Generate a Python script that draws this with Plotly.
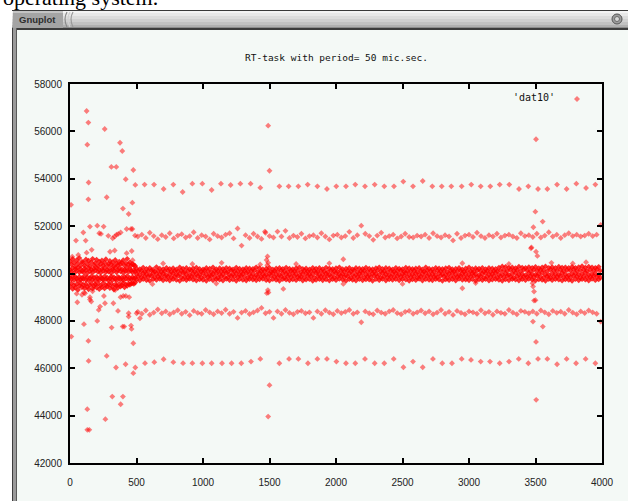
import plotly.graph_objects as go

# ---------------------------------------------------------------- data
# sample index vs. measured latency-period value (dat10)

# dense core band, samples 500..3975 (every 25th sample)
band_x = list(range(500, 4000, 25))
band_top = [
    50210, 50180, 50250, 50190, 50230, 50160, 50270, 50200, 50180, 50240,
    50190, 50220, 50170, 50260, 50200, 50230, 50180, 50210, 50250, 50190,
    50170, 50230, 50200, 50260, 50180, 50220, 50190, 50240, 50210, 50170,
    50250, 50200, 50180, 50230, 50210, 50190, 50260, 50220, 50180, 50200,
    50240, 50170, 50210, 50230, 50190, 50250, 50200, 50180, 50220, 50260,
    50190, 50210, 50170, 50240, 50200, 50230, 50180, 50250, 50210, 50190,
    50220, 50260, 50180, 50200, 50240, 50170, 50230, 50210, 50190, 50250,
    50200, 50180, 50220, 50260, 50190, 50230, 50210, 50170, 50240, 50200,
    50180, 50250, 50220, 50190, 50210, 50230, 50170, 50260, 50200, 50180,
    50240, 50210, 50190, 50220, 50250, 50180, 50200, 50230, 50170, 50210,
    50260, 50190, 50220, 50200, 50240, 50180, 50230, 50210, 50190, 50250,
    50300, 50280, 50240, 50260, 50220, 50290, 50250, 50230, 50270, 50240,
    50280, 50220, 50260, 50300, 50240, 50270, 50230, 50290, 50250, 50260,
    50230, 50280, 50240, 50270, 50310, 50250, 50290, 50260, 50240, 50280,
]
band_mid = [
    49980, 49950, 50010, 49970, 49940, 50020, 49990, 49960, 50000, 49930,
    49970, 50010, 49950, 49990, 50030, 49960, 49940, 50000, 49980, 49950,
    50020, 49970, 49930, 49990, 50010, 49960, 49980, 50030, 49950, 49970,
    50000, 49940, 49990, 50020, 49960, 49980, 49930, 50010, 49970, 49950,
    49990, 50030, 49960, 49940, 50000, 49980, 49950, 50020, 49970, 49930,
    49990, 50010, 49960, 49980, 50030, 49950, 49970, 50000, 49940, 49990,
    50020, 49960, 49980, 49930, 50010, 49970, 49950, 49990, 50030, 49960,
    49940, 50000, 49980, 49950, 50020, 49970, 49930, 49990, 50010, 49960,
    49980, 50030, 49950, 49970, 50000, 49940, 49990, 50020, 49960, 49980,
    49930, 50010, 49970, 49950, 49990, 50030, 49960, 49940, 50000, 49980,
    49950, 50020, 49970, 49930, 49990, 50010, 49960, 49980, 50030, 49950,
    49970, 50000, 49940, 49990, 50020, 49960, 49980, 49930, 50010, 49970,
    49950, 49990, 50030, 49960, 49940, 50000, 49980, 49950, 50020, 49970,
    49930, 49990, 50010, 49960, 49980, 50030, 49950, 49970, 50000, 49940,
]
band_bot = [
    49740, 49700, 49770, 49720, 49690, 49760, 49730, 49780, 49710, 49750,
    49700, 49770, 49730, 49690, 49760, 49720, 49780, 49740, 49700, 49750,
    49730, 49690, 49770, 49710, 49760, 49740, 49700, 49780, 49720, 49750,
    49690, 49760, 49730, 49700, 49770, 49740, 49710, 49750, 49780, 49720,
    49700, 49760, 49730, 49690, 49770, 49740, 49710, 49750, 49720, 49780,
    49700, 49740, 49760, 49690, 49730, 49770, 49710, 49750, 49700, 49760,
    49720, 49780, 49740, 49690, 49760, 49730, 49700, 49770, 49710, 49750,
    49740, 49690, 49760, 49720, 49780, 49700, 49750, 49730, 49770, 49710,
    49760, 49740, 49690, 49750, 49720, 49780, 49700, 49760, 49730, 49710,
    49770, 49740, 49690, 49750, 49720, 49760, 49700, 49780, 49730, 49740,
    49710, 49760, 49690, 49750, 49720, 49770, 49700, 49740, 49760, 49730,
    49690, 49750, 49710, 49770, 49740, 49700, 49760, 49720, 49780, 49740,
    49700, 49750, 49730, 49690, 49770, 49720, 49760, 49740, 49700, 49750,
    49730, 49690, 49770, 49710, 49760, 49740, 49700, 49780, 49720, 49750,
]
# in-between samples of the core band (offset by half a step)
band_x2 = list(range(512, 4000, 25))
band_q1 = [
    50090, 50120, 50070, 50100, 50130, 50080, 50110, 50060, 50100, 50120,
    50070, 50110, 50090, 50130, 50060, 50100, 50120, 50080, 50110, 50070,
    50130, 50090, 50060, 50120, 50100, 50080, 50110, 50070, 50130, 50090,
    50100, 50060, 50120, 50080, 50110, 50130, 50070, 50100, 50090, 50120,
    50060, 50110, 50080, 50130, 50100, 50070, 50120, 50090, 50110, 50060,
    50130, 50080, 50100, 50120, 50070, 50110, 50090, 50060, 50130, 50100,
    50080, 50120, 50070, 50110, 50090, 50130, 50060, 50100, 50120, 50080,
    50110, 50070, 50130, 50090, 50100, 50060, 50120, 50080, 50110, 50130,
    50070, 50100, 50090, 50120, 50060, 50110, 50080, 50130, 50100, 50070,
    50120, 50090, 50110, 50060, 50130, 50080, 50100, 50120, 50070, 50110,
    50090, 50060, 50130, 50100, 50080, 50120, 50070, 50110, 50090, 50130,
    50140, 50110, 50160, 50120, 50150, 50100, 50170, 50130, 50110, 50160,
    50120, 50150, 50140, 50100, 50170, 50130, 50120, 50160, 50110, 50150,
    50130, 50170, 50120, 50140, 50160, 50110, 50150, 50130, 50170, 50120,
]
band_q3 = [
    49860, 49830, 49880, 49850, 49900, 49840, 49870, 49820, 49890, 49850,
    49830, 49870, 49900, 49840, 49860, 49820, 49880, 49850, 49890, 49830,
    49870, 49840, 49900, 49860, 49820, 49880, 49850, 49830, 49890, 49870,
    49840, 49900, 49860, 49820, 49880, 49830, 49870, 49850, 49890, 49840,
    49900, 49860, 49830, 49880, 49820, 49870, 49850, 49890, 49840, 49860,
    49830, 49900, 49870, 49820, 49880, 49850, 49840, 49890, 49860, 49830,
    49870, 49900, 49840, 49880, 49820, 49860, 49850, 49890, 49830, 49870,
    49840, 49900, 49860, 49820, 49880, 49830, 49870, 49850, 49890, 49840,
    49900, 49860, 49830, 49880, 49820, 49870, 49850, 49890, 49840, 49860,
    49830, 49900, 49870, 49820, 49880, 49850, 49840, 49890, 49860, 49830,
    49870, 49900, 49840, 49880, 49820, 49860, 49850, 49890, 49830, 49870,
    49840, 49900, 49860, 49820, 49880, 49830, 49870, 49850, 49890, 49840,
    49900, 49860, 49830, 49880, 49820, 49870, 49850, 49890, 49840, 49860,
    49830, 49900, 49870, 49820, 49880, 49850, 49840, 49890, 49860, 49830,
]

# start-up phase, samples 0..490 (every 10th sample), wider scatter
early_x = list(range(0, 500, 10))
early_a = [
    50520, 50380, 50610, 50450, 50300, 50560, 50420, 50650, 50340, 50500,
    50470, 50330, 50590, 50400, 50540, 50310, 50480, 50620, 50360, 50440,
    50580, 50320, 50500, 50390, 50550, 50350, 50460, 50600, 50330, 50410,
    50530, 50370, 50480, 50310, 50570, 50420, 50350, 50500, 50390, 50460,
    50560, 50340, 50430, 50620, 50380, 50470, 50330, 50400, 50360, 50320,
]
early_b = [
    50150, 50080, 50220, 50010, 50180, 50120, 50250, 50050, 50190, 50100,
    50060, 50210, 50140, 50020, 50230, 50090, 50170, 50040, 50200, 50130,
    50240, 50070, 50160, 50030, 50190, 50110, 50220, 50060, 50150, 50080,
    50200, 50020, 50170, 50120, 50250, 50050, 50140, 50210, 50090, 50180,
    50030, 50160, 50100, 50230, 50070, 50190, 50120, 50040, 50150, 50090,
]
early_c = [
    49820, 49760, 49880, 49720, 49850, 49790, 49700, 49860, 49740, 49810,
    49770, 49890, 49730, 49840, 49710, 49800, 49870, 49750, 49830, 49690,
    49860, 49780, 49720, 49850, 49800, 49740, 49880, 49760, 49820, 49710,
    49790, 49870, 49730, 49840, 49770, 49700, 49860, 49810, 49750, 49830,
    49720, 49850, 49780, 49890, 49740, 49810, 49760, 49840, 49790, 49820,
]
early_d = [
    49450, 49580, 49350, 49500, 49400, 49550, 49310, 49480, 49600, 49420,
    49520, 49380, 49560, 49440, 49330, 49500, 49590, 49360, 49470, 49540,
    49410, 49570, 49340, 49490, 49430, 49600, 49370, 49510, 49460, 49550,
    49390, 49580, 49440, 49320, 49530, 49480, 49400, 49560, 49450, 49500,
    49600, 49420, 49540, 49480, 49560, 49520, 49580, 49600, 49560, 49620,
]

# secondary levels, every 30th sample from 510
level_x = list(range(510, 4000, 30))
level_hi = [
    51560, 51640, 51500, 51720, 51580, 51450, 51620, 51540, 51700, 51480,
    51600, 51660, 51520, 51580, 51740, 51500, 51620, 51560, 51440, 51680,
    51580, 51520, 51640, 51700, 51480, 51900, 51177, 51620, 51500, 51680,
    51560, 51460, 51720, 51580, 51520, 51770, 51560, 51800, 51500, 51600,
    51540, 51680, 51480, 51580, 51620, 51520, 51700, 51560, 51440, 51600,
    51640, 51520, 51580, 51760, 51500, 51620, 52020, 51680, 51580, 51420,
    51600, 51720, 51520, 51580, 51640, 51480, 51560, 51680, 51540, 51520,
    51600, 51560, 51640, 51500, 51700, 51580, 51520, 51620, 51560, 51396,
    51680, 51500, 51600, 51640, 51540, 51720, 51580, 51500, 51620, 51560,
    51680, 51520, 51600, 51640, 51560, 51500, 51700, 51580, 51620, 51540,
    51680, 51520, 51600, 51740, 51560, 51640, 51500, 51620, 51700, 51580,
    51640, 51560, 51600, 51680, 51580, 51640, 52050,
]
level_lo = [
    48380, 48300, 48440, 48260, 48350, 48480, 48320, 48400, 48280, 48360,
    48450, 48300, 48380, 48240, 48420, 48340, 48300, 48460, 48360, 48280,
    48400, 48330, 48470, 48300, 48380, 48125, 48350, 48420, 48290, 48360,
    48440, 48547, 48320, 48380, 48125, 48400, 48300, 48460, 48340, 48280,
    48380, 48420, 48320, 48360, 48125, 48400, 48300, 48450, 48350, 48280,
    48420, 48330, 48380, 48460, 48300, 48360, 47944, 48400, 48320, 48280,
    48440, 48350, 48300, 48400, 48460, 48330, 48280, 48380, 48420, 48300,
    48360, 48440, 48320, 48400, 48280, 48350, 48460, 48300, 48380, 48252,
    48420, 48340, 48280, 48400, 48360, 48300, 48450, 48320, 48380, 48260,
    48400, 48340, 48300, 48460, 48350, 48280, 48420, 48380, 48320, 48400,
    48300, 48440, 48360, 48280, 48420, 48340, 48390, 48300, 48460, 48350,
    48280, 48400, 48330, 48440, 48360, 48300, 47970,
]

# periodic far levels (~53700 and ~46200)
far_hi_x = [561, 632, 704, 777, 847, 920, 995, 1065, 1135, 1208, 1281, 1358,
            1431, 1574, 1644, 1717, 1787, 1860, 1932, 2002, 2075, 2145, 2218,
            2291, 2363, 2436, 2506, 2579, 2652, 2724, 2795, 2867, 2945, 3017,
            3088, 3160, 3231, 3303, 3376, 3446, 3519, 3589, 3662, 3734, 3807,
            3880, 3950]
far_hi_y = [53752, 53752, 53569, 53752, 53442, 53794, 53794, 53527, 53794,
            53738, 53794, 53794, 53625, 53681, 53681, 53681, 53752, 53681,
            53569, 53681, 53681, 53752, 53681, 53752, 53681, 53681, 53879,
            53681, 53906, 53681, 53681, 53681, 53681, 53752, 53681, 53681,
            53752, 53752, 53569, 53681, 53569, 53569, 53752, 53569, 53794,
            53611, 53752]
far_lo_x = [564, 634, 704, 777, 850, 920, 995, 1065, 1143, 1215, 1288, 1361,
            1431, 1574, 1647, 1717, 1789, 1860, 1932, 2003, 2075, 2145, 2218,
            2291, 2363, 2434, 2507, 2579, 2652, 2729, 2799, 2872, 2945, 3015,
            3088, 3158, 3231, 3301, 3374, 3446, 3519, 3589, 3662, 3734, 3805,
            3877, 3950]
far_lo_y = [46214, 46256, 46382, 46256, 46214, 46214, 46212, 46212, 46212,
            46212, 46212, 46282, 46395, 46212, 46395, 46395, 46212, 46395,
            46395, 46282, 46212, 46212, 46395, 46212, 46212, 46395, 46043,
            46282, 46043, 46395, 46212, 46212, 46395, 46353, 46282, 46282,
            46212, 46282, 46395, 46212, 46395, 46395, 46170, 46395, 46212,
            46395, 46212]

# isolated samples (start-up transients and the disturbances near 1500 / 3500)
iso_x = [8, 125, 138, 130, 140, 138, 261, 276, 376, 393, 311, 348, 419, 476,
         491, 398, 441, 469, 45, 100, 118, 150, 205, 253, 220, 233, 288, 321,
         363, 381, 426, 459, 469, 489, 336, 350, 163, 125, 301, 336, 426, 464,
         471, 17, 62,
         10, 55, 105, 138, 140, 130, 130, 145, 113, 216, 226, 205, 263, 276,
         266, 313, 326, 361, 346, 318, 381, 398, 396, 408, 418, 441, 441, 463,
         459, 476, 476, 491, 501, 526, 50, 90, 105, 150, 170, 255, 340, 380,
         400, 420, 445, 150, 160,
         1490, 1500, 1500, 1490, 1478, 1485, 1490, 1483, 1480, 1492, 1488,
         1604, 1466,
         3504, 3499, 3554, 3484, 3466, 3470, 3504, 3514, 3489, 3500, 3489,
         3481, 3555, 3504, 3505, 3478, 3482,
         700, 920, 1140, 1430, 1700, 1950, 2950, 2950, 3300, 3620, 3780,
         3880, 2055, 2055, 620, 1100, 2500, 3050]
iso_y = [52900, 56860, 56370, 55440, 53840, 53130, 56100, 53220, 55520, 55170,
         54500, 54500, 53980, 54370, 53740, 52740, 52510, 52990, 51390, 51730,
         51390, 51980, 52020, 51980, 51700, 51670, 51590, 51490, 51670, 51730,
         51880, 51880, 51880, 51600, 51560, 51640, 51000, 50880, 50920, 50970,
         50860, 50950, 50560, 50710, 50780,
         47336, 48787, 47860, 47155, 46311, 44272, 43400, 43400, 49167, 48463,
         48603, 48000, 48745, 46520, 43850, 47717, 48745, 48420, 46030, 44805,
         44481, 44805, 47760, 47760, 46171, 48321, 48180, 47661, 47802, 47057,
         45792, 46030, 48321, 48110, 49150, 49100, 49200, 49000, 49250, 49050,
         49300, 49000, 49050, 49050, 49000, 48900, 48820,
         56240, 54340, 45285, 43960, 50570, 50720, 50450, 50350, 49170, 49200,
         49300, 49350, 51770,
         55666, 52610, 52190, 51953, 51067, 51100, 50923, 50742, 49235, 48870,
         48855, 47970, 47760, 47113, 44665, 49590, 49450,
         50420, 50400, 50450, 50380, 50400, 50430, 50434, 49378, 50400, 50450,
         50420, 50480, 50600, 49560, 49550, 49580, 49560, 49600]

series_name = "'dat10'"
chart_title = "RT-task with period= 50 mic.sec."
x_ticks = [0, 500, 1000, 1500, 2000, 2500, 3000, 3500, 4000]
y_ticks = [42000, 44000, 46000, 48000, 50000, 52000, 54000, 56000, 58000]

# ---------------------------------------------------------------- assemble
# the core band stands for thousands of coinciding samples, so it is drawn
# with a denser fill than the sparse levels
core_x, core_y = [], []
for col in (band_top, band_mid, band_bot):
    core_x += band_x
    core_y += col
for col in (band_q1, band_q3):
    core_x += band_x2
    core_y += col
for col in (early_a, early_b, early_c, early_d):
    core_x += early_x
    core_y += col

sparse_x, sparse_y = [], []
for col in (level_hi, level_lo):
    sparse_x += level_x
    sparse_y += col
sparse_x += far_hi_x + far_lo_x + iso_x
sparse_y += far_hi_y + far_lo_y + iso_y

W, H = 628, 501
L, R, T, B = 70, 602, 84, 463
CANVAS = "#f4f9f6"
POINT = "rgba(255,0,0,0.5)"
CORE = "rgba(255,0,0,0.8)"


def px(x):
    return (x - L) / (R - L)


def py(y):
    return (B - y) / (B - T)


fig = go.Figure()
fig.add_trace(go.Scatter(
    x=core_x, y=core_y, mode="markers", showlegend=False, hoverinfo="skip",
    marker=dict(symbol="diamond", size=4.5, color=CORE, line=dict(width=0)),
))
fig.add_trace(go.Scatter(
    x=sparse_x, y=sparse_y, mode="markers", showlegend=False, hoverinfo="skip",
    marker=dict(symbol="diamond", size=4.5, color=POINT, line=dict(width=0)),
))

shapes = []


def rect(x0, y0, x1, y1, fill, layer="below"):
    shapes.append(dict(type="rect", xref="paper", yref="paper",
                       x0=px(x0), x1=px(x1), y0=py(y1), y1=py(y0),
                       fillcolor=fill, line=dict(width=0), layer=layer))


# window body
rect(12, 10, 628, 501, CANVAS)
# title bar shading
bar = [(10, 11, "#3a3a3a"), (11, 13, "#f4f4f4"), (13, 16, "#e8e8e8"),
       (16, 19, "#dcdcdc"), (19, 22, "#d0d0d0"), (22, 25, "#c2c2c2"),
       (25, 27, "#b0b0b0"), (27, 28, "#8c8c8c"), (28, 30, "#3c3c3c")]
for y0, y1, c in bar:
    rect(12, y0, 628, y1, c)
# "Gnuplot" tab
rect(13, 11, 63, 28, "#a4a4a4")
rect(13, 11, 63, 13, "#c4c4c4")
# left frame
rect(12, 28, 17, 501, "#9a9a9a")
rect(12, 28, 13, 501, "#3e3e3e")
rect(16, 28, 17, 501, "#5a5a5a")
# tab separator arcs
for xo, col in ((64, "#8a8a8a"), (67, "#cfcfcf"), (70, "#9a9a9a")):
    shapes.append(dict(
        type="path", xref="paper", yref="paper", layer="below",
        path=f"M {px(xo + 3)},{py(12)} Q {px(xo - 1)},{py(19)} {px(xo + 3)},{py(27)}",
        line=dict(color=col, width=1.2)))
# close button
shapes.append(dict(type="circle", xref="paper", yref="paper", layer="above",
                   x0=px(612), x1=px(622), y0=py(24), y1=py(14),
                   fillcolor="#9c9c9c", line=dict(color="#555555", width=1)))
shapes.append(dict(type="circle", xref="paper", yref="paper", layer="above",
                   x0=px(614.5), x1=px(619.5), y0=py(21.5), y1=py(16.5),
                   fillcolor="#d8d8d8", line=dict(color="#6a6a6a", width=1)))
# legend key sample
kx, ky, ks = 577, 99, 3
shapes.append(dict(type="path", xref="paper", yref="paper", layer="above",
                   path=f"M {px(kx - ks)},{py(ky)} L {px(kx)},{py(ky - ks)} "
                        f"L {px(kx + ks)},{py(ky)} L {px(kx)},{py(ky + ks)} Z",
                   fillcolor=POINT, line=dict(width=0)))

annotations = [
    dict(text=chart_title, xref="paper", yref="paper", x=px(336), y=py(57),
         showarrow=False, xanchor="center", yanchor="middle",
         font=dict(family="DejaVu Sans Mono", size=9.5, color="#111111")),
    dict(text=series_name, xref="paper", yref="paper", x=px(557), y=py(98),
         showarrow=False, xanchor="right", yanchor="middle",
         font=dict(family="DejaVu Sans Mono", size=10, color="#111111")),
    dict(text="<b>Gnuplot</b>", xref="paper", yref="paper", x=px(37), y=py(19.5),
         showarrow=False, xanchor="center", yanchor="middle",
         font=dict(family="Liberation Sans", size=9.5, color="#2e2e2e")),
    dict(text="operating system.", xref="paper", yref="paper", x=px(1), y=py(-2),
         showarrow=False, xanchor="left", yanchor="middle",
         font=dict(family="Liberation Serif", size=22, color="#000000")),
]

axis_common = dict(showgrid=False, zeroline=False, showline=True,
                   linecolor="#000000", linewidth=2, mirror="ticks",
                   ticks="inside", ticklen=5, tickwidth=2, tickcolor="#000000",
                   tickformat="d",
                   tickfont=dict(family="Liberation Sans", size=10, color="#222222"))

fig.update_layout(
    width=W, height=H,
    margin=dict(l=L, r=W - R, t=T, b=H - B, pad=0),
    paper_bgcolor="#ffffff", plot_bgcolor=CANVAS,
    xaxis=dict(range=[0, 4000], tickvals=x_ticks, ticklabelstandoff=9,
               **axis_common),
    yaxis=dict(range=[42000, 58000], tickvals=y_ticks, ticklabelstandoff=4,
               **axis_common),
    shapes=shapes, annotations=annotations,
)

fig.write_html("out.html")
